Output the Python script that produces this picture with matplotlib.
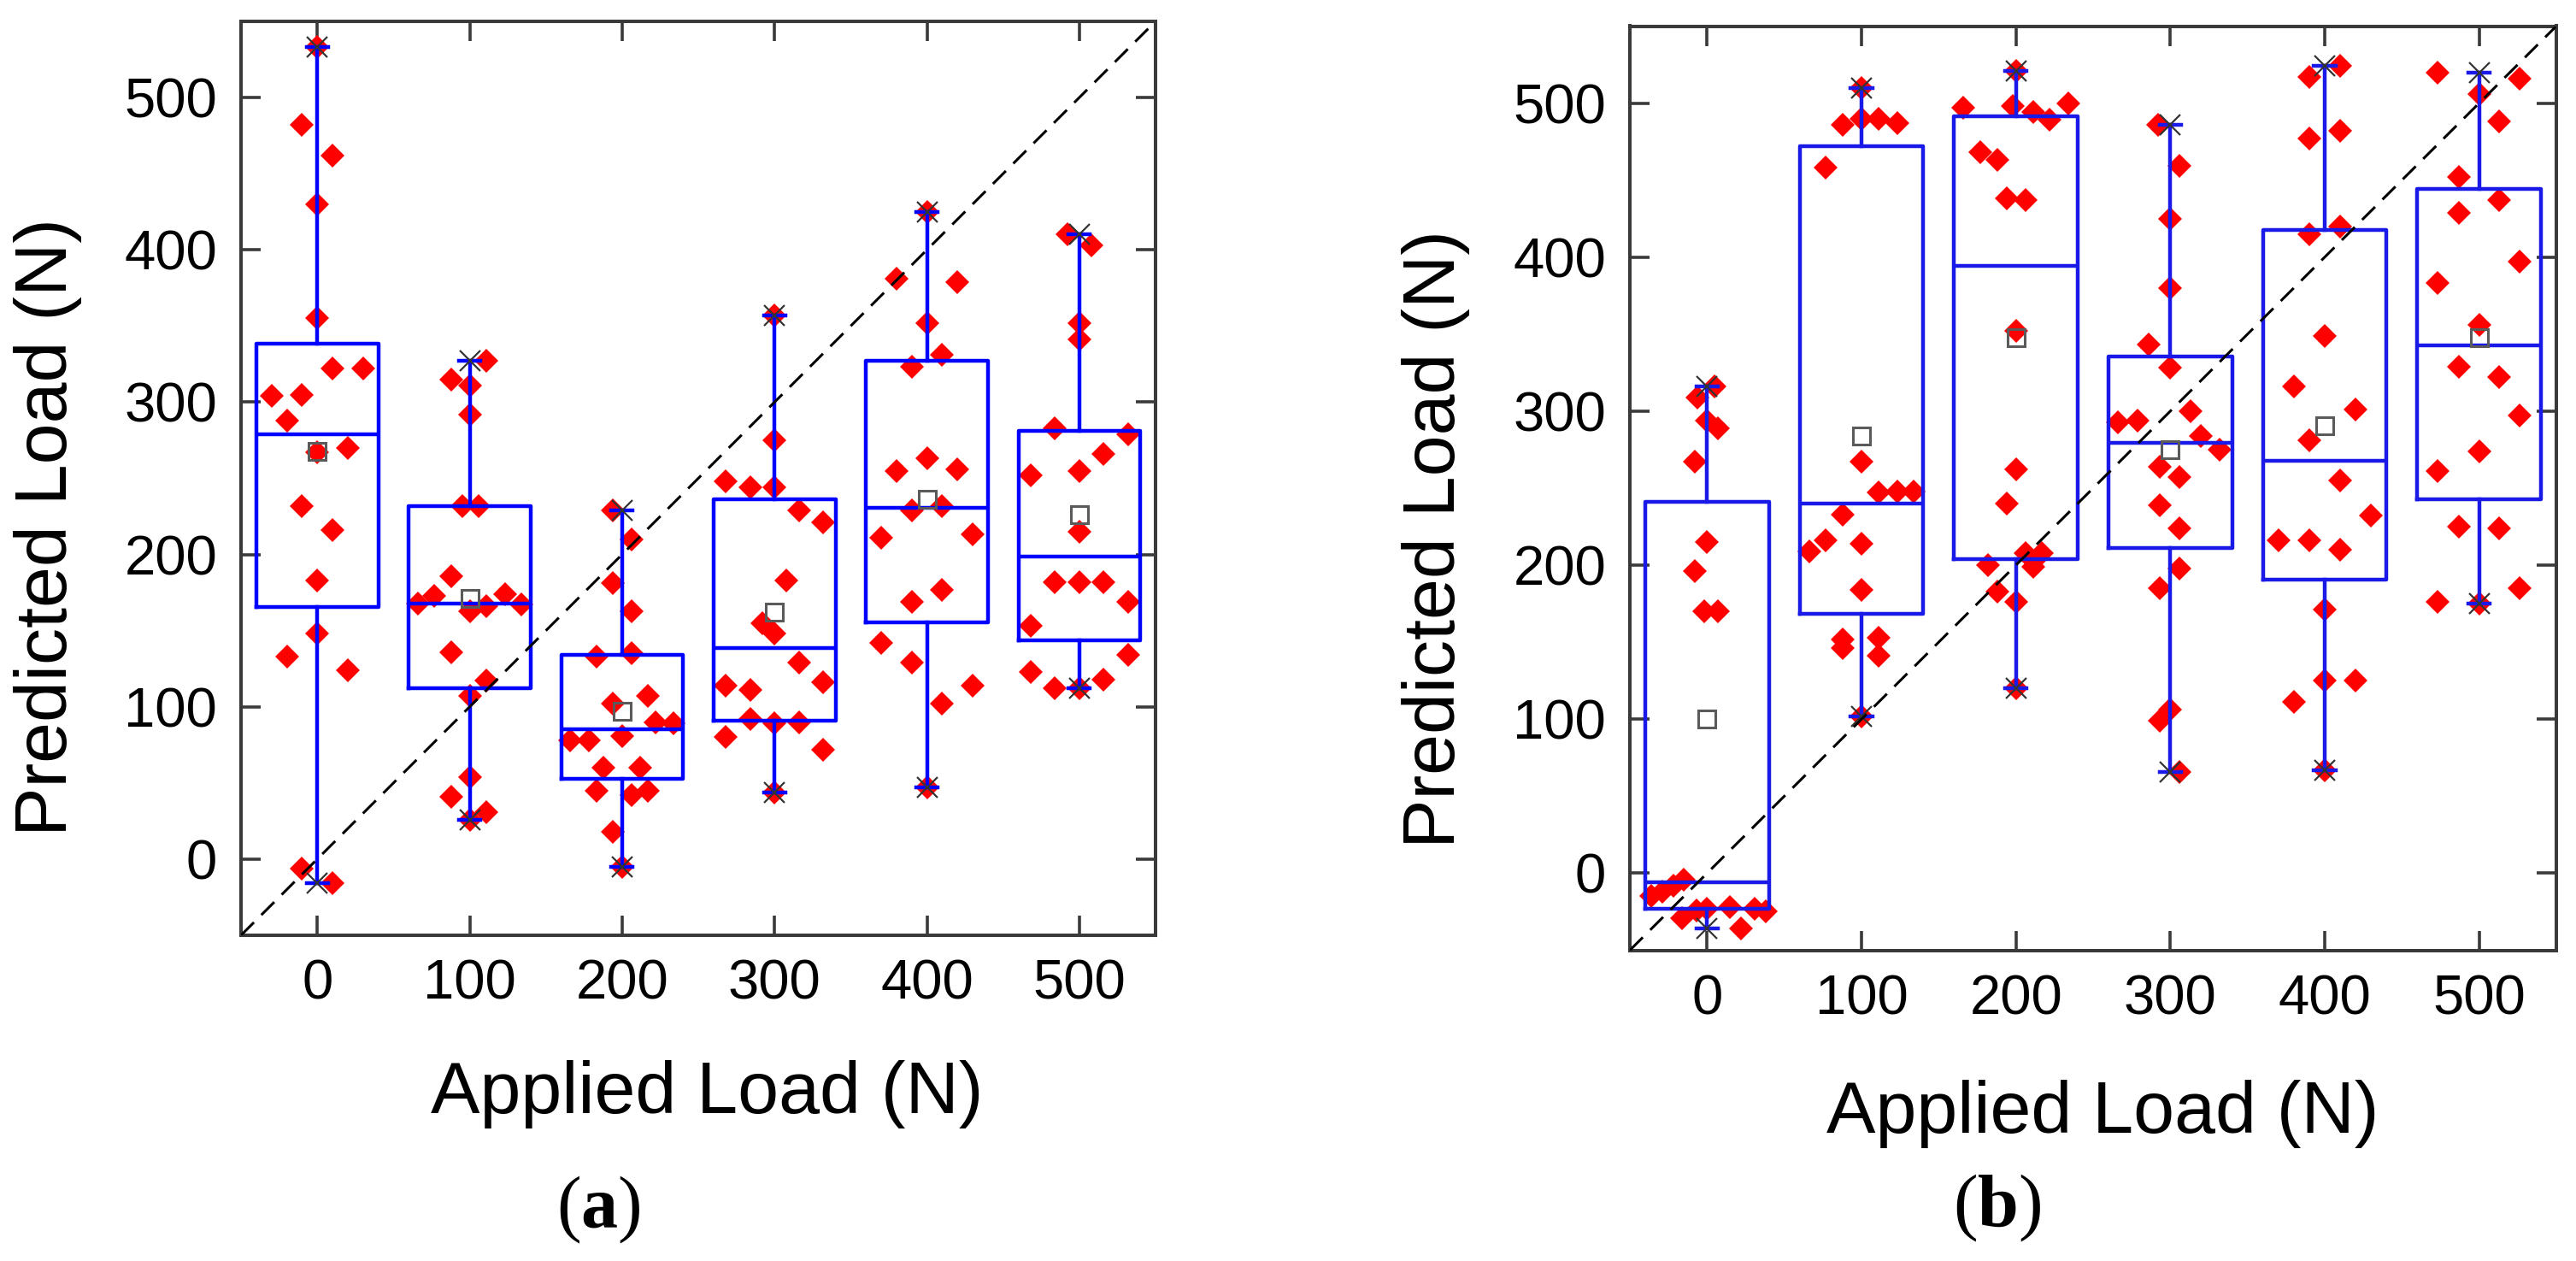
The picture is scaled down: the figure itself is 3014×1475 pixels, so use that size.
import numpy as np
import matplotlib
matplotlib.use("Agg")
import matplotlib.pyplot as plt

plt.rcParams["font.family"] = ["Liberation Sans", "DejaVu Sans"]
plt.rcParams["mathtext.fontset"] = "custom"
plt.rcParams["mathtext.rm"] = "Liberation Serif"
plt.rcParams["mathtext.bf"] = "Liberation Serif:bold"

# ---------------- data ----------------
applied_loads = [0, 100, 200, 300, 400, 500]
tick_values = [0, 100, 200, 300, 400, 500]
x_label = "Applied Load (N)"
y_label = "Predicted Load (N)"
panel_tags = ["a", "b"]

# panel (a): predicted loads per applied load, with horizontal jitter offsets
a_0 = [533, 482, 462, 430, 355, 322, 322, 304, 305, 288, 267, 270, 232, 216, 183, 148, 133, 124, -6, -16]
a_0_dx = [0, -10, 10, 0, 0, 10, 30, -30, -10, -20, 0, 20, -10, 10, 0, 0, -20, 20, -10, 10]
a_100 = [327, 315, 311, 292, 232, 232, 186, 168, 173, 163, 166, 174, 167, 136, 117, 107, 54, 41, 31, 26]
a_100_dx = [11, -12, 0, 0, -5, 6, -12, -34, -23, 0, 11, 23, 34, -12, 11, 0, 0, -12, 11, 0]
a_200 = [229, 210, 181, 163, 133, 135, 102, 107, 90, 89, 78, 78, 81, 60, 60, 45, 42, 45, 18, -5]
a_200_dx = [-6, 6, -6, 6, -17, 6, -6, 17, 22, 34, -34, -22, 0, -12, 12, -17, 6, 17, -6, 0]
a_300 = [357, 275, 248, 244, 244, 229, 221, 183, 155, 148, 129, 114, 111, 116, 92, 89, 90, 80, 72, 44]
a_300_dx = [0, 0, -32, -16, 0, 16, 32, 8, -8, 0, 16, -32, -16, 32, -16, 0, 16, -32, 32, 0]
a_400 = [425, 381, 379, 352, 331, 323, 263, 255, 256, 229, 232, 211, 213, 177, 169, 142, 129, 114, 102, 47]
a_400_dx = [0, -20, 20, 0, 10, -10, 0, -20, 20, -10, 10, -30, 30, 10, -10, -30, -10, 30, 10, 0]
a_500 = [410, 403, 352, 341, 283, 279, 266, 252, 255, 215, 182, 182, 182, 169, 153, 134, 123, 118, 112, 112]
a_500_dx = [-8, 8, 0, 0, -16, 32, 16, -32, 0, 0, -16, 0, 16, 32, -32, 32, -32, 16, -16, 0]

# panel (b)
b_0 = [316, 309, 294, 289, 267, 215, 196, 170, 170, -4, -8, -12, -15, -22, -23, -23, -24, -25, -29, -36]
b_0_dx = [5, -6, 0, 7, -8, 0, -8, -2, 7, -15, -22, -29, -36, 15, 0, 31, -7, 38, -16, 22]
b_100 = [510, 486, 490, 490, 487, 458, 267, 247, 248, 248, 233, 209, 216, 214, 184, 152, 146, 153, 141, 102]
b_100_dx = [0, -12, 0, 11, 23, -23, 0, 11, 23, 34, -12, -34, -23, 0, 0, -12, -12, 11, 11, 0]
b_200 = [521, 497, 498, 494, 489, 500, 468, 463, 438, 437, 352, 262, 240, 208, 208, 200, 199, 183, 176, 120]
b_200_dx = [0, -34, -2, 11, 22, 34, -23, -12, -6, 6, 0, 0, -6, 6, 17, -18, 11, -12, 0, 0]
b_300 = [486, 459, 425, 380, 343, 328, 293, 294, 300, 284, 275, 264, 257, 239, 224, 198, 185, 99, 106, 66]
b_300_dx = [-8, 6, 0, 0, -14, 0, -34, -21, 13, 20, 32, -7, 6, -7, 6, 6, -7, -7, 0, 6]
b_400 = [517, 524, 477, 482, 415, 420, 349, 316, 301, 281, 255, 232, 216, 216, 210, 171, 111, 125, 125, 67]
b_400_dx = [-10, 10, -10, 10, -10, 10, 0, -20, 20, -10, 10, 30, -30, -10, 10, 0, -20, 0, 20, 0]
b_500 = [520, 516, 506, 488, 452, 437, 429, 397, 383, 356, 329, 322, 297, 274, 261, 225, 224, 185, 176, 175]
b_500_dx = [-27, 26, 0, 13, -13, 13, -13, 26, -27, 0, -13, 13, 26, 0, -27, -13, 13, 26, -27, 0]

panel_a_values = [a_0, a_100, a_200, a_300, a_400, a_500]
panel_a_dx = [a_0_dx, a_100_dx, a_200_dx, a_300_dx, a_400_dx, a_500_dx]
panel_b_values = [b_0, b_100, b_200, b_300, b_400, b_500]
panel_b_dx = [b_0_dx, b_100_dx, b_200_dx, b_300_dx, b_400_dx, b_500_dx]

# ---------------- figure ----------------
W, H = 3014, 1475
fig = plt.figure(figsize=(W / 100, H / 100), dpi=100)
fig.patch.set_facecolor("white")

ax_a = fig.add_axes([282 / W, 1 - 1094 / H, 1070 / W, 1069 / H])
ax_b = fig.add_axes([1907 / W, 1 - 1111.5 / H, 1084 / W, 1081 / H])

spine_col = "#3a3a3a"


def draw_panel(ax, groups, offsets, box_col):
    for pos, vals, dx in zip(applied_loads, groups, offsets):
        ax.plot(np.array(dx) + pos, vals, linestyle="none", marker="D",
                ms=14.5, mfc="red", mec="red", mew=0, zorder=2)
    stats = []
    for vals in groups:
        v = np.asarray(vals, dtype=float)
        stats.append(dict(
            med=np.median(v),
            q1=np.percentile(v, 25, method="midpoint"),
            q3=np.percentile(v, 75, method="midpoint"),
            whislo=v.min(), whishi=v.max(), mean=v.mean(), fliers=[]))
    lw = 3.2
    ax.bxp(stats, positions=applied_loads, widths=80, capwidths=14,
           showmeans=True, showfliers=False, manage_ticks=False,
           boxprops=dict(color=box_col, lw=lw),
           whiskerprops=dict(color=box_col, lw=lw),
           capprops=dict(color=box_col, lw=lw),
           medianprops=dict(color=box_col, lw=lw),
           meanprops=dict(marker="s", ms=14, mfc="none", mec="#5a5a5a", mew=2.2),
           zorder=3)
    mins = [min(g) for g in groups]
    maxs = [max(g) for g in groups]
    ax.plot(applied_loads, mins, linestyle="none", marker="x", ms=17,
            mew=1.6, color="#333333", zorder=5)
    ax.plot(applied_loads, maxs, linestyle="none", marker="x", ms=17,
            mew=1.6, color="#333333", zorder=5)
    ax.axline((0, 0), slope=1, color="black", lw=2.2,
              linestyle=(0, (7, 4)), zorder=6)

    ax.set_xlim(-50, 550)
    ax.set_ylim(-50, 550)
    ax.set_xticks(tick_values)
    ax.set_yticks(tick_values)
    ax.tick_params(direction="in", top=True, right=True, length=16.5,
                   width=2.6, color=spine_col, labelsize=47, pad=20)
    for s in ax.spines.values():
        s.set_linewidth(2.9)
        s.set_color(spine_col)


draw_panel(ax_a, panel_a_values, panel_a_dx, "#0000ff")
draw_panel(ax_b, panel_b_values, panel_b_dx, "#1a1ae8")

for ax, xl_y, yl_x, yl_y in [(ax_a, -0.137, -0.174, 0.447),
                              (ax_b, -0.140, -0.1725, 0.445)]:
    ax.set_xlabel(x_label, fontsize=62)
    ax.set_ylabel(y_label, fontsize=62)
    ax.xaxis.set_label_coords(0.51, xl_y)
    ax.yaxis.set_label_coords(yl_x, yl_y)

fig.text(700 / W, 1 - 1415 / H, r"($\mathbf{%s}$)" % panel_tags[0],
         fontsize=62, family="Liberation Serif", ha="center", va="center")
fig.text(2337 / W, 1 - 1413 / H, r"($\mathbf{%s}$)" % panel_tags[1],
         fontsize=62, family="Liberation Serif", ha="center", va="center")

fig.savefig("out.png", dpi=100, facecolor="white")
